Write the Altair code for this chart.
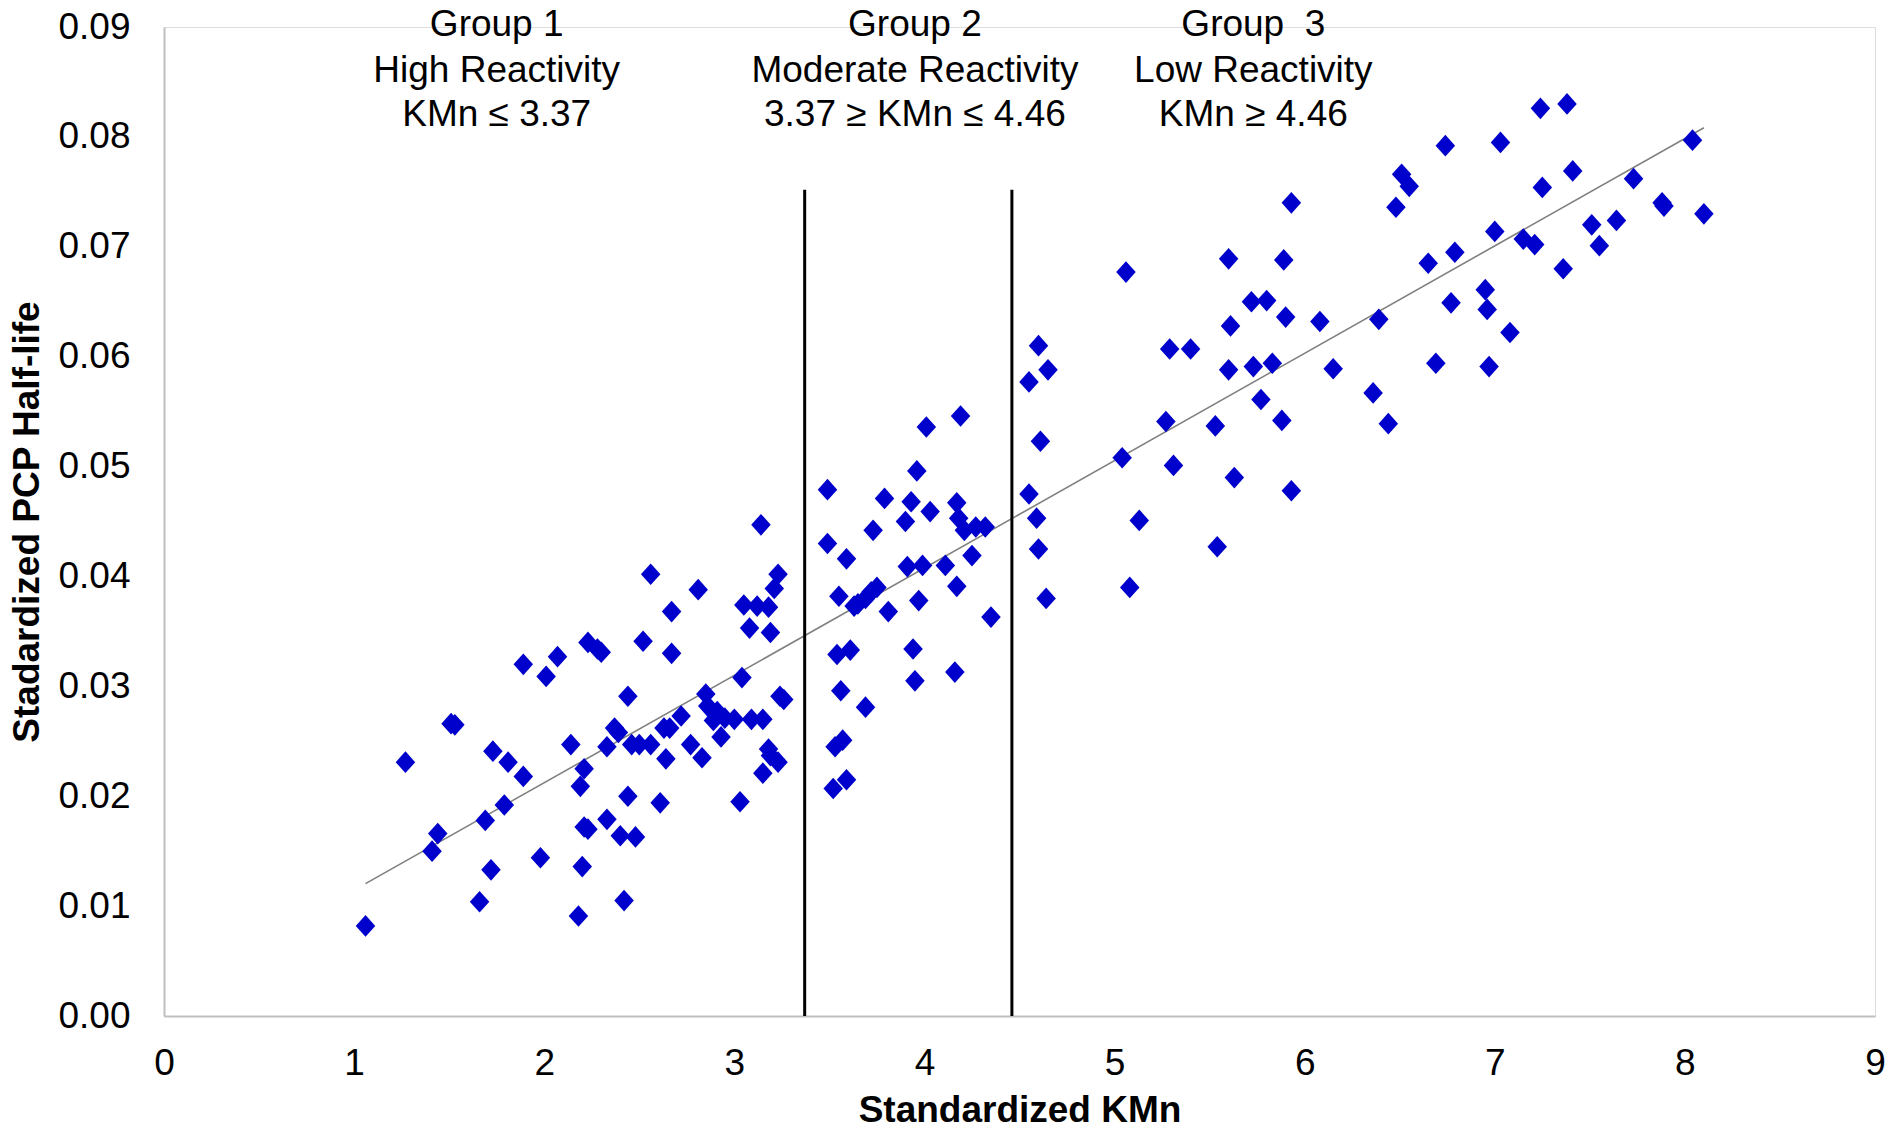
import altair as alt
import pandas as pd

# ---- data ----
kmn = [
    1.06, 1.27, 1.44, 1.41, 1.51, 1.53, 1.66, 1.69, 1.72, 1.73, 1.79, 1.81, 1.89, 1.89, 1.98,
    2.01, 2.07, 2.14, 2.19, 2.18, 2.21, 2.20, 2.21, 2.23, 2.23, 2.28, 2.30, 2.33, 2.33, 2.37,
    2.39, 2.40, 2.42, 2.44, 2.44, 2.46, 2.48, 2.50, 2.52, 2.56, 2.56, 2.61, 2.63, 2.64, 2.66,
    2.67, 2.67, 2.72, 2.77, 2.81, 2.83, 2.85, 2.86, 2.89, 2.91, 2.93, 2.95, 3.00, 3.03, 3.04,
    3.05, 3.08, 3.09, 3.12, 3.14, 3.15, 3.15, 3.18, 3.18, 3.19, 3.19, 3.21, 3.23, 3.23, 3.24,
    3.26,
    3.49, 3.49, 3.52, 3.53, 3.54, 3.55, 3.56, 3.57, 3.59, 3.59, 3.61, 3.63, 3.65, 3.69, 3.69,
    3.72, 3.73, 3.75, 3.79, 3.81, 3.90, 3.91, 3.93, 3.94, 3.95, 3.96, 3.97, 3.99, 4.01, 4.03,
    4.11, 4.16, 4.17, 4.17, 4.18, 4.19, 4.21, 4.25, 4.27, 4.32, 4.35,
    4.55, 4.55, 4.59, 4.60, 4.60, 4.61, 4.64, 4.65, 5.04, 5.06, 5.08, 5.13, 5.27, 5.29, 5.31,
    5.40, 5.53, 5.54, 5.60, 5.60, 5.61, 5.63, 5.72, 5.73, 5.77, 5.80, 5.83, 5.88, 5.89, 5.90,
    5.93, 5.93, 6.08, 6.15, 6.36, 6.39, 6.44, 6.48, 6.51, 6.55, 6.65, 6.69, 6.74, 6.77, 6.79,
    6.95, 6.96, 6.97, 7.00, 7.03, 7.08, 7.15, 7.21, 7.24, 7.25, 7.36, 7.38, 7.41, 7.51, 7.55,
    7.64, 7.73, 7.88, 7.89, 8.04, 8.10,
]
half_life = [
    0.0082, 0.0231, 0.0166, 0.0150, 0.0266, 0.0265, 0.0104, 0.0178, 0.0133, 0.0241, 0.0192, 0.0231, 0.0218, 0.0320, 0.0144,
    0.0309, 0.0327, 0.0247, 0.0209, 0.0091, 0.0225, 0.0136, 0.0172, 0.0170, 0.0340, 0.0334, 0.0331, 0.0245, 0.0179, 0.0262,
    0.0258, 0.0164, 0.0105, 0.0291, 0.0200, 0.0247, 0.0163, 0.0247, 0.0341, 0.0402, 0.0247, 0.0194, 0.0262, 0.0234, 0.0262,
    0.0368, 0.0330, 0.0273, 0.0247, 0.0388, 0.0235, 0.0293, 0.0282, 0.0269, 0.0277, 0.0254, 0.0271, 0.0270, 0.0195, 0.0308,
    0.0374, 0.0353, 0.0270, 0.0373, 0.0447, 0.0221, 0.0270, 0.0372, 0.0243, 0.0349, 0.0237, 0.0389, 0.0402, 0.0231, 0.0291,
    0.0288,
    0.0479, 0.0430, 0.0207, 0.0245, 0.0329, 0.0382, 0.0296, 0.0251, 0.0215, 0.0416, 0.0333, 0.0373, 0.0375, 0.0281, 0.0380,
    0.0386, 0.0442, 0.0390, 0.0471, 0.0368, 0.0450, 0.0409, 0.0468, 0.0334, 0.0305, 0.0496, 0.0378, 0.0410, 0.0536, 0.0459,
    0.0410, 0.0313, 0.0391, 0.0467, 0.0453, 0.0546, 0.0442, 0.0419, 0.0445, 0.0445, 0.0363,
    0.0577, 0.0475, 0.0453, 0.0610, 0.0425, 0.0523, 0.0380, 0.0588, 0.0508, 0.0677, 0.0390, 0.0451, 0.0541, 0.0607, 0.0501,
    0.0607, 0.0537, 0.0427, 0.0689, 0.0588, 0.0628, 0.0490, 0.0650, 0.0591, 0.0561, 0.0651, 0.0594, 0.0542, 0.0688, 0.0636,
    0.0740, 0.0478, 0.0632, 0.0589, 0.0567, 0.0634, 0.0539, 0.0736, 0.0766, 0.0755, 0.0685, 0.0594, 0.0792, 0.0649, 0.0695,
    0.0661, 0.0643, 0.0591, 0.0714, 0.0795, 0.0622, 0.0707, 0.0702, 0.0826, 0.0754, 0.0680, 0.0830, 0.0769, 0.0720, 0.0701,
    0.0724, 0.0762, 0.0740, 0.0737, 0.0797, 0.0730,
]

boundaries = [3.37, 4.46]
boundary_top = [0.0752, 0.0752]

ann_x = [1.75, 3.95, 5.73]
ann_y = [0.0902, 0.0860, 0.0820]
ann_lines = [
    ["Group 1", "High Reactivity", "KMn \u2264 3.37"],
    ["Group 2", "Moderate Reactivity", "3.37 \u2265 KMn \u2264 4.46"],
    ["Group \u00a03", "Low Reactivity", "KMn \u2265 4.46"],
]

x_ticks = list(range(0, 10))
y_ticks = [0.00, 0.01, 0.02, 0.03, 0.04, 0.05, 0.06, 0.07, 0.08, 0.09]

FONT = "Liberation Sans, Arial, Helvetica, sans-serif"

pts = pd.DataFrame({"kmn": kmn, "hl": half_life})
rules = pd.DataFrame({"x": boundaries, "y0": [0.0, 0.0], "y1": boundary_top})
ann = pd.DataFrame(
    [
        {"x": ann_x[g], "y": ann_y[i], "t": ann_lines[g][i]}
        for g in range(3)
        for i in range(3)
    ]
)

W, H = 1711, 989

xscale = alt.Scale(domain=[0, 9], nice=False, zero=True)
yscale = alt.Scale(domain=[0, 0.09], nice=False, zero=True)

xaxis = alt.Axis(
    title="Standardized KMn",
    values=x_ticks,
    format="d",
    grid=False,
    ticks=False,
    labelFlush=False,
    labelOverlap=False,
    domainColor="#BFBFBF",
    domainWidth=2,
    labelFont=FONT,
    labelFontSize=37,
    labelColor="#000000",
    labelPadding=29,
    titleFont=FONT,
    titleFontSize=37,
    titleFontWeight="bold",
    titleColor="#000000",
    titleX=W / 2,
    titleY=94,
    titleBaseline="middle",
    titleAlign="center",
)
yaxis = alt.Axis(
    title="Stadardized PCP Half-life",
    values=y_ticks,
    format=".2f",
    grid=False,
    ticks=False,
    labelFlush=False,
    labelOverlap=False,
    domainColor="#BFBFBF",
    domainWidth=2,
    labelFont=FONT,
    labelFontSize=37,
    labelColor="#000000",
    labelPadding=34,
    titleFont=FONT,
    titleFontSize=37,
    titleFontWeight="bold",
    titleColor="#000000",
    titleX=-137,
    titleY=H / 2,
    titleBaseline="middle",
    titleAlign="center",
    titleAngle=270,
)

points = alt.Chart(pts).mark_point(
    shape="M0,-1L0.9,0L0,1L-0.9,0Z",
    filled=True,
    size=470,
    color="#0000CC",
    opacity=1,
    strokeWidth=0,
).encode(
    x=alt.X("kmn:Q", scale=xscale, axis=xaxis),
    y=alt.Y("hl:Q", scale=yscale, axis=yaxis),
)

trend = (
    alt.Chart(pts)
    .transform_regression("kmn", "hl")
    .mark_line(color="#808080", strokeWidth=1.6)
    .encode(x=alt.X("kmn:Q", scale=xscale), y=alt.Y("hl:Q", scale=yscale))
)

vlines = alt.Chart(rules).mark_rule(color="#000000", strokeWidth=3).encode(
    x=alt.X("x:Q", scale=xscale),
    y=alt.Y("y0:Q", scale=yscale),
    y2="y1:Q",
)

labels = alt.Chart(ann).mark_text(
    font=FONT, fontSize=37, color="#000000", align="center", baseline="middle"
).encode(
    x=alt.X("x:Q", scale=xscale),
    y=alt.Y("y:Q", scale=yscale),
    text="t:N",
)

chart = (
    alt.layer(trend, vlines, points, labels)
    .properties(
        width=W,
        height=H,
        autosize=alt.AutoSizeParams(type="none"),
        padding={"left": 164, "top": 27, "right": 14, "bottom": 114},
    )
    .configure_view(stroke="transparent", strokeWidth=0, strokeOpacity=0)
    .configure(background="#FFFFFF")
)

chart.save("out.html", embed_options={"renderer": "svg", "actions": False})
